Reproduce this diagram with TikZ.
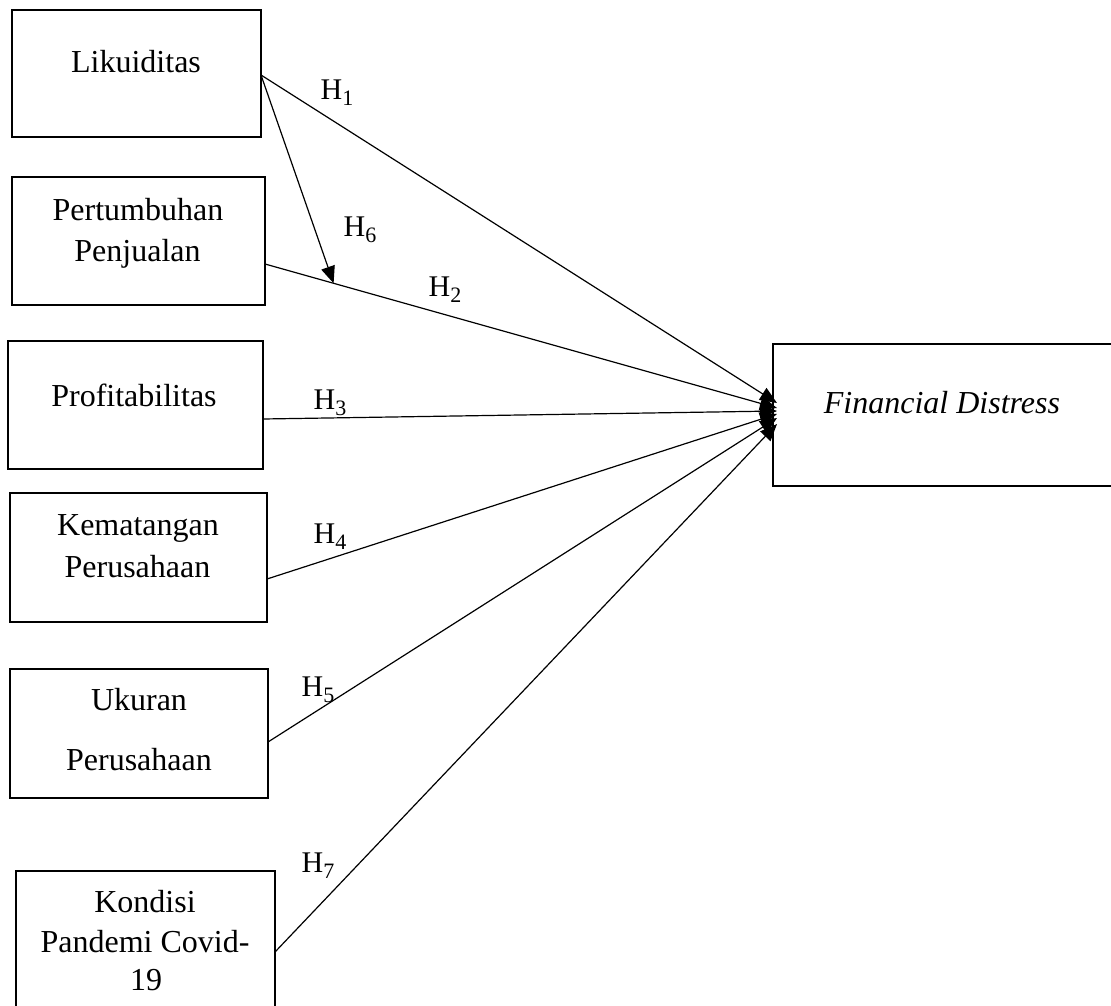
\documentclass[tikz,border=0pt]{standalone}
\usepackage{fontspec}
\setmainfont{Liberation Serif}
\usetikzlibrary{arrows.meta}
\newcommand{\hlab}[1]{H\raisebox{-6pt}{\fontsize{22}{22}\selectfont #1}}
\tikzset{
 box/.style={draw, line width=2.2pt, inner sep=0pt, outer sep=0pt},
 txt/.style={anchor=base, inner sep=0pt, font=\fontsize{32}{38}\selectfont},
 conn/.style={line width=1.2pt, -{Triangle[length=17pt,width=14pt]}},
 hl/.style={inner sep=0pt, font=\fontsize{30}{32}\selectfont},
}
\begin{document}
\begin{tikzpicture}[x=1pt,y=-1pt]
\useasboundingbox (0,0) rectangle (1111,1006);
\clip (0,0) rectangle (1111,1006);
% boxes
\node[box, minimum width=249pt, minimum height=127pt] (b1) at (136.5,73.5) {};
\node[box, minimum width=253pt, minimum height=128pt] (b2) at (138.5,241) {};
\node[box, minimum width=255pt, minimum height=128pt] (b3) at (135.5,405) {};
\node[box, minimum width=257pt, minimum height=129pt] (b4) at (138.5,557.5) {};
\node[box, minimum width=258pt, minimum height=129pt] (b5) at (139,733.5) {};
\node[box, minimum width=259pt, minimum height=169pt] (b6) at (145.5,955.5) {};
\node[box, minimum width=357pt, minimum height=142pt] (fd) at (951.5,415) {};
% texts
\node[txt] (t1) at (136,73) {Likuiditas};
\node[txt] (t2a) at (138,220) {Pertumbuhan};
\node[txt] (t2b) at (137.5,261) {Penjualan};
\node[txt] (t3) at (134,406) {Profitabilitas};
\node[txt] (t4a) at (138,535) {Kematangan};
\node[txt] (t4b) at (137.5,577) {Perusahaan};
\node[txt] (t5a) at (139,710) {Ukuran};
\node[txt] (t5b) at (139,770) {Perusahaan};
\node[txt] (t6a) at (145,912) {Kondisi};
\node[txt] (t6b) at (145,952) {Pandemi Covid-};
\node[txt] (t6c) at (146,990) {19};
\node[txt] (tfd) at (942,413) {\textit{Financial Distress}};
% connectors
\draw[conn] ([yshift=-1.5pt]b1.east) -- ([xshift=4pt,yshift=12pt]fd.west);
\draw[conn] ([yshift=-23pt]b2.east) -- coordinate[pos=0.134] (m) ([xshift=4pt,yshift=7pt]fd.west);
\draw[conn] ([yshift=-14pt]b3.east) -- ([xshift=4pt,yshift=4pt]fd.west);
\draw[conn] ([yshift=-21.5pt]b4.east) -- ([xshift=4pt,yshift=1pt]fd.west);
\draw[conn] ([yshift=-8.5pt]b5.east) -- ([xshift=4pt,yshift=-3pt]fd.west);
\draw[conn] ([yshift=3.5pt]b6.east) -- ([xshift=4pt,yshift=-9pt]fd.west);
\draw[conn] ([yshift=-1.5pt]b1.east) -- (m);
% labels
\node[hl] (h1) at (337,93) {\hlab{1}};
\node[hl] (h6) at (360,230) {\hlab{6}};
\node[hl] (h2) at (445,290) {\hlab{2}};
\node[hl] (h3) at (330,403) {\hlab{3}};
\node[hl] (h4) at (330,537) {\hlab{4}};
\node[hl] (h5) at (318,690) {\hlab{5}};
\node[hl] (h7) at (318,866) {\hlab{7}};
\end{tikzpicture}
\end{document}
